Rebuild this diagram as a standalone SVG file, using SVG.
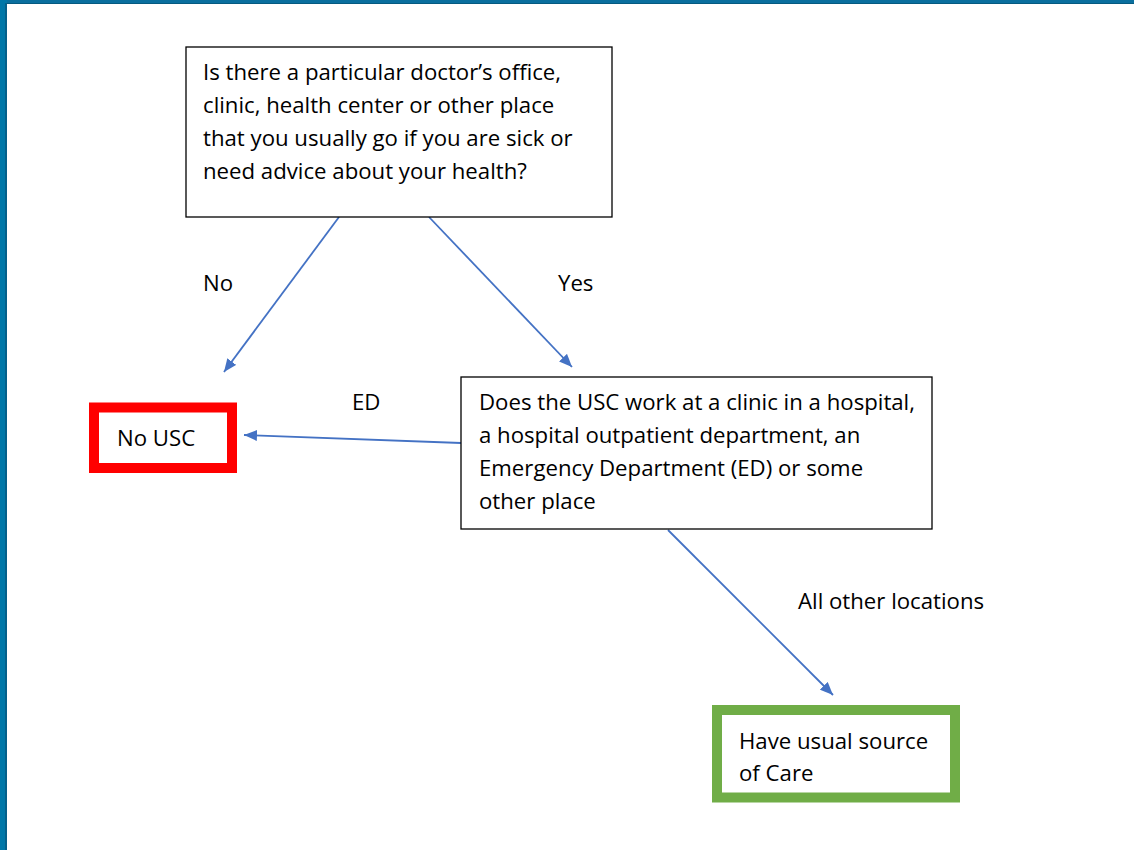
<svg xmlns="http://www.w3.org/2000/svg" width="1134" height="850" viewBox="0 0 1134 850">
<defs>
<style>
.t{font-family:"Open Sans","Liberation Sans",Arial,sans-serif;font-size:22.2px;fill:#000}
.box{fill:#fff;stroke:#000;stroke-width:1.3}
.c{stroke:#4472C4;stroke-width:1.8;fill:none}
</style>
<marker id="ah" viewBox="0 0 13 11" refX="13" refY="5.5" markerWidth="13" markerHeight="11" markerUnits="userSpaceOnUse" orient="auto">
<path d="M0,0 L13,5.5 L0,11 Z" fill="#4472C4"/>
</marker>
</defs>
<rect x="0" y="0" width="1134" height="850" fill="#fff"/>
<g id="frame">
<rect x="0" y="0" width="1134" height="4" fill="#0a6f9e"/>
<rect x="0" y="3" width="1134" height="1" fill="#055a80"/>
<rect x="0" y="0" width="7" height="850" fill="#0077a8"/>
<rect x="5" y="3" width="2" height="847" fill="#05608a"/>
</g>
<g id="connectors">
<line class="c" x1="339" y1="217" x2="224" y2="372" marker-end="url(#ah)"/>
<line class="c" x1="429" y1="217" x2="572" y2="367" marker-end="url(#ah)"/>
<line class="c" x1="461" y1="443" x2="244" y2="435" marker-end="url(#ah)"/>
<line class="c" x1="668" y1="530" x2="833" y2="695" marker-end="url(#ah)"/>
<text class="t" x="203" y="291">No</text>
<text class="t" x="558" y="291">Yes</text>
<text class="t" x="352" y="410">ED</text>
<text class="t" x="798" y="609">All other locations</text>
</g>
<g id="q1">
<rect class="box" x="186" y="47" width="426" height="170"/>
<text class="t" x="203" y="80">Is there a particular doctor’s office,</text>
<text class="t" x="203" y="113">clinic, health center or other place</text>
<text class="t" x="203" y="146">that you usually go if you are sick or</text>
<text class="t" x="203" y="179">need advice about your health?</text>
</g>
<g id="q2">
<rect class="box" x="461" y="377" width="471" height="152"/>
<text class="t" x="479" y="410">Does the USC work at a clinic in a hospital,</text>
<text class="t" x="479" y="443">a hospital outpatient department, an</text>
<text class="t" x="479" y="476">Emergency Department (ED) or some</text>
<text class="t" x="479" y="509">other place</text>
</g>
<g id="nousc">
<rect x="94" y="407.5" width="138" height="60.5" fill="#fff" stroke="#ff0000" stroke-width="10"/>
<text class="t" x="117" y="446">No USC</text>
</g>
<g id="usc">
<rect x="717" y="710" width="238" height="87.5" fill="#fff" stroke="#70ad47" stroke-width="10"/>
<text class="t" x="739" y="749">Have usual source</text>
<text class="t" x="739" y="781">of Care</text>
</g>
</svg>
